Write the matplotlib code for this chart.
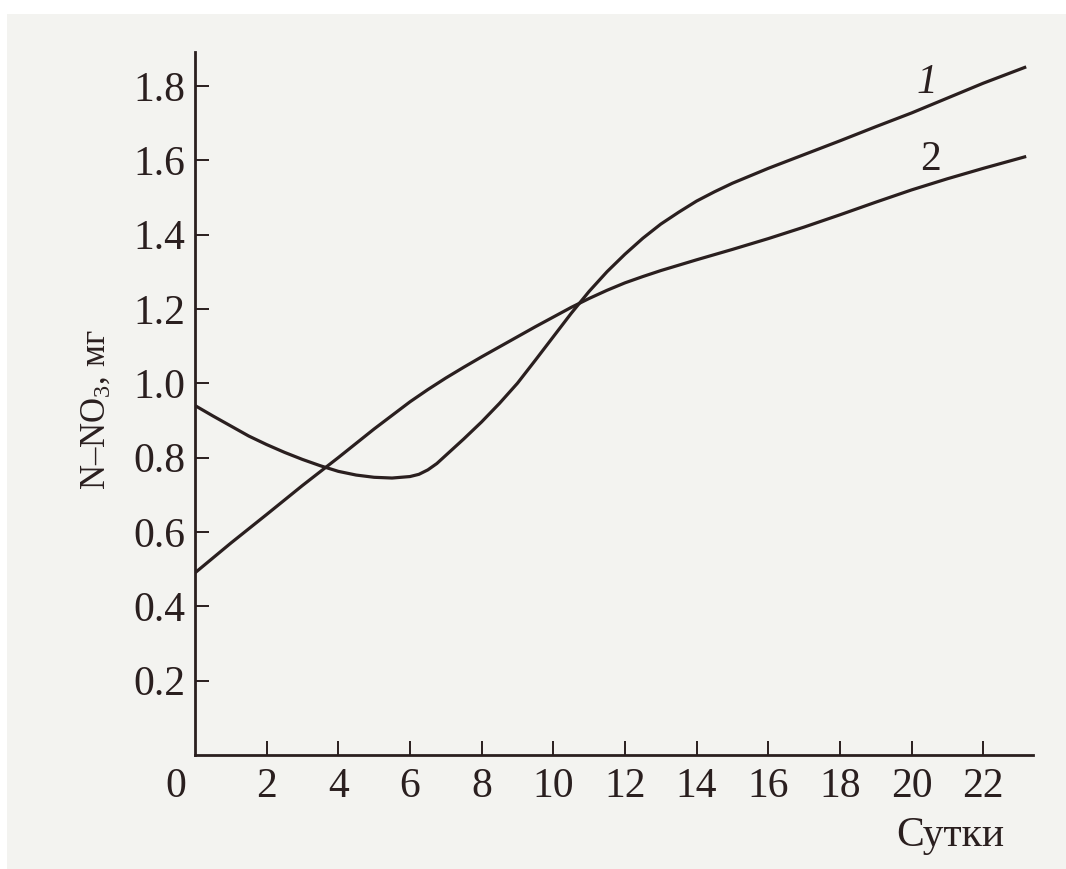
import matplotlib
matplotlib.use("Agg")
import matplotlib.pyplot as plt
from matplotlib.patches import Rectangle

# ---- data ----
days_1 = [0, 0.5, 1, 1.5, 2, 2.5, 3, 3.5, 4, 4.5, 5, 5.5, 6, 6.25, 6.5, 6.75, 7, 7.5, 8, 8.5,
          9, 9.5, 10, 10.5, 11, 11.5, 12, 12.5, 13, 13.5, 14, 14.5, 15, 16, 17, 18, 19, 20,
          21, 22, 23.2]
no3_1 = [0.94, 0.912, 0.885, 0.858, 0.835, 0.814, 0.795, 0.778, 0.763, 0.753, 0.747, 0.745,
         0.749, 0.755, 0.767, 0.784, 0.806, 0.850, 0.896, 0.946, 1.0, 1.062, 1.125, 1.188,
         1.247, 1.30, 1.347, 1.39, 1.428, 1.46, 1.49, 1.515, 1.538, 1.578, 1.615, 1.652,
         1.69, 1.727, 1.767, 1.807, 1.851]

days_2 = [0, 1, 2, 3, 4, 5, 6, 6.5, 7, 7.5, 8, 8.5, 9, 9.5, 10, 10.5, 11, 11.5, 12, 12.5, 13,
          14, 15, 16, 17, 18, 19, 20, 21, 22, 23.2]
no3_2 = [0.49, 0.57, 0.647, 0.725, 0.80, 0.877, 0.95, 0.983, 1.014, 1.043, 1.071, 1.098,
         1.125, 1.152, 1.178, 1.204, 1.228, 1.25, 1.27, 1.287, 1.303, 1.332, 1.36, 1.389,
         1.42, 1.453, 1.487, 1.52, 1.55, 1.578, 1.61]

x_ticks = [2, 4, 6, 8, 10, 12, 14, 16, 18, 20, 22]
y_ticks = [0.2, 0.4, 0.6, 0.8, 1.0, 1.2, 1.4, 1.6, 1.8]
y_tick_labels = ["0.2", "0.4", "0.6", "0.8", "1.0", "1.2", "1.4", "1.6", "1.8"]
curve_labels = ["1", "2"]
x_label = "Сутки"

# ---- style ----
ink = "#2a1f1f"
paper = "#f3f3f0"
plt.rcParams["font.family"] = ["Liberation Serif", "DejaVu Serif"]
plt.rcParams["mathtext.fontset"] = "custom"
plt.rcParams["mathtext.rm"] = "Liberation Serif"
plt.rcParams["mathtext.it"] = "Liberation Serif:italic"

W, H = 1066, 869
fig = plt.figure(figsize=(W / 100, H / 100), dpi=100, facecolor=paper)
# white scan margins
fig.patches.append(Rectangle((0, 1 - 14 / H), 1, 14 / H, transform=fig.transFigure,
                             facecolor="white", edgecolor="none", zorder=0))
fig.patches.append(Rectangle((0, 0), 7 / W, 1, transform=fig.transFigure,
                             facecolor="white", edgecolor="none", zorder=0))

left, right = 195 / W, 1033 / W
bottom, top = 1 - 755 / H, 1 - 52 / H
ax = fig.add_axes([left, bottom, right - left, top - bottom])
ax.set_facecolor("none")

ax.plot(days_1, no3_1, color=ink, lw=2.3, solid_capstyle="butt", solid_joinstyle="round")
ax.plot(days_2, no3_2, color=ink, lw=2.3, solid_capstyle="butt", solid_joinstyle="round")

ax.set_xlim(0, 23.39)
ax.set_ylim(0, 1.891)

for s in ["top", "right"]:
    ax.spines[s].set_visible(False)
for s in ["left", "bottom"]:
    ax.spines[s].set_color(ink)
    ax.spines[s].set_linewidth(2.0)

ax.set_xticks(x_ticks)
ax.set_xticklabels([str(t) for t in x_ticks])
ax.set_yticks(y_ticks)
ax.set_yticklabels(y_tick_labels)
ax.tick_params(axis="both", direction="in", length=10, width=1.4, color=ink,
               labelsize=30, labelcolor=ink)
ax.tick_params(axis="x", pad=9)
ax.tick_params(axis="y", pad=7)

# origin label (offset left of the spine, no tick)
ax.annotate("0", xy=(0, 0), xytext=(-14, -9), textcoords="offset points",
            ha="center", va="top", fontsize=30, color=ink)

# curve labels
ax.text(20.43, 1.808, curve_labels[0], fontsize=30, style="italic", color=ink,
        ha="center", va="center")
ax.text(20.52, 1.601, curve_labels[1], fontsize=30, color=ink, ha="center", va="center")

# axis titles
fig.text(1004 / W, 1 - 846 / H, x_label, ha="right", va="baseline", fontsize=30, color=ink)
fig.text(96 / W, 1 - 410 / H, "N–NO$_3$, мг", rotation=90, ha="center", va="center",
         fontsize=25, color=ink)

fig.savefig("out.png", dpi=100, facecolor=paper)
